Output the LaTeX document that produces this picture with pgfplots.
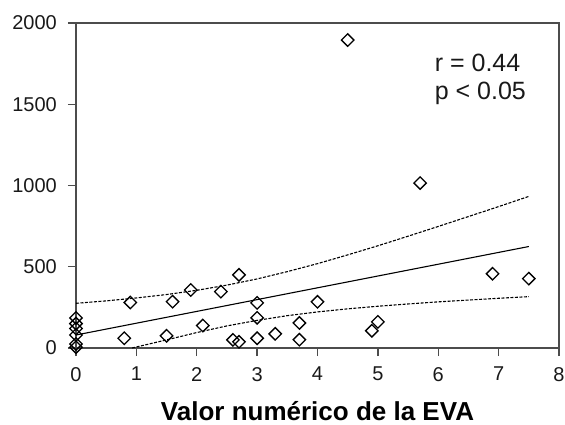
\documentclass[border=0pt]{standalone}
\usepackage{fontspec}
\setmainfont{Liberation Sans}
\usepackage{pgfplots}
\pgfplotsset{compat=1.18}

\begin{document}
\begin{tikzpicture}
% page frame: 565 x 425 bp, axis box at (76,23)-(559,348) in picture pixels
\path (-76bp,-77bp) rectangle (489bp,348bp);
\begin{axis}[
    at={(0,0)}, anchor=south west,
    scale only axis,
    width=483bp, height=325bp,
    xmin=0, xmax=8, ymin=0, ymax=2000,
    xtick={0,1,...,8}, ytick={0,500,...,2000},
    xtick pos=bottom, ytick pos=left,
    xtick align=outside, ytick align=outside,
    major tick length=8bp,
    axis line style={draw=black!70, line width=1.3bp},
    major tick style={draw=black!70, line width=1.3bp},
    ticklabel style={font=\fontsize{20bp}{24bp}\selectfont, text=black!90, inner sep=0pt},
    yticklabel style={anchor=east, xshift=-11bp},
    xticklabel style={anchor=north, yshift=-11bp},
    /pgf/number format/assume math mode=true,
    /pgf/number format/set thousands separator={},
    scaled y ticks=false,
    xlabel={Valor numérico de la EVA},
    xlabel style={font=\bfseries\fontsize{26bp}{30bp}\selectfont, inner sep=0pt,
        at={(rel axis cs:0.5,0)}, anchor=center, yshift=-63bp},
    clip=false,
]

% regression line
\addplot[black, line width=1.1bp] coordinates {(0,80) (7.5,624.5)};

% 95% confidence bands
\addplot[black, line width=1.1bp, dash pattern=on 3bp off 1.5bp] coordinates {
    (0,275) (0.5,290) (1,308) (1.5,329) (2,355) (2.5,387) (3,425) (3.5,470)
    (4,519) (4.5,573) (5,629) (5.5,688) (6,748) (6.5,809) (7,870) (7.5,933)
};
\addplot[black, line width=1.1bp, dash pattern=on 3bp off 1.5bp] coordinates {
    (0.93,0) (1.5,50) (2,95) (2.5,136) (3,170) (3.5,199)
    (4,222) (4.5,241) (5,257) (5.5,271) (6,284) (6.5,295) (7,306) (7.5,316)
};

% observations
\addplot[only marks, mark=square, mark size=4.4bp,
    mark options={rotate=45, line width=1.3bp, draw=black, fill=white}] coordinates {
    (0,185) (0,150) (0,120) (0,80) (0,25) (0,5)
    (0.8,60) (0.9,280) (1.5,75) (1.6,285) (1.9,357) (2.1,138) (2.4,347)
    (2.6,50) (2.7,450) (2.7,38) (3.0,278) (3.0,186) (3.0,60) (3.3,87)
    (3.7,154) (3.7,51) (4.0,284) (4.5,1895) (4.9,106) (5.0,161)
    (5.7,1015) (6.9,457) (7.5,427)
};

\node[anchor=west, font=\fontsize{25bp}{29bp}\selectfont, text=black!90, inner sep=0pt]
    at (axis cs:5.94,1754) {r = 0.44};
\node[anchor=west, font=\fontsize{25bp}{29bp}\selectfont, text=black!90, inner sep=0pt]
    at (axis cs:5.94,1569) {p < 0.05};
\end{axis}
\end{tikzpicture}
\end{document}
